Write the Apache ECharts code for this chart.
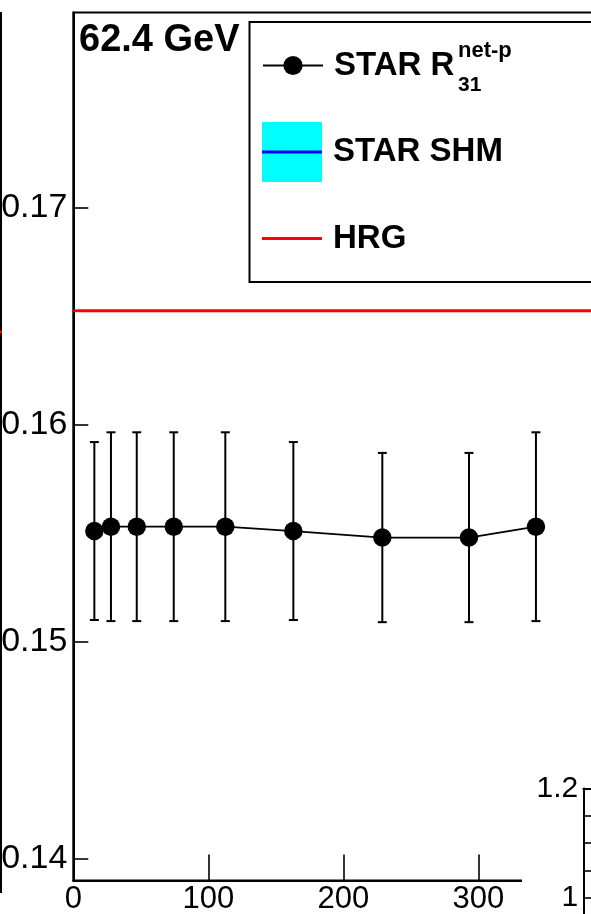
<!DOCTYPE html>
<html>
<head>
<meta charset="utf-8">
<script src="https://cdn.jsdelivr.net/npm/echarts@6/dist/echarts.min.js"></script>
<style>
  html, body { margin: 0; padding: 0; background: #fff; }
  #chart { width: 591px; height: 914px; }
</style>
</head>
<body>
<div id="chart"></div>
<script>
// Centrality dependence of the net-proton cumulant ratio at 62.4 GeV
const npart = [15.6, 27.9, 47.0, 74.4, 112.6, 163.0, 228.9, 293.1, 342.7];
const r31 = [0.1551, 0.1553, 0.1553, 0.1553, 0.1553, 0.1551, 0.1548, 0.1548, 0.1553];
const r31Err = [0.0041, 0.00435, 0.00435, 0.00435, 0.00435, 0.0041, 0.0039, 0.0039, 0.00435];
const hrgValue = 0.16525;

const xRange = [0, 400];
const yRange = [0.139, 0.179];
const xTickValues = [100, 200, 300];
const xLabelValues = [0, 100, 200, 300];
const yTickValues = [0.14, 0.15, 0.16, 0.17];

// neighbouring ratio panel (lower right corner)
const insetRange = [0.8, 1.2];
const insetLabelValues = [1, 1.2];

const FONT = 'Liberation Sans';

const starPoints = npart.map((x, i) => [x, r31[i]]);
const errPoints = npart.map((x, i) => [x, r31[i] - r31Err[i], r31[i] + r31Err[i]]);
const hrgLine = xRange.map(x => [x, hrgValue]);

const chart = echarts.init(document.getElementById('chart'), null, { renderer: 'canvas' });

const legendText = { fontFamily: FONT, fontSize: 33, fontWeight: 'bold', color: '#000', padding: [0, 0, 0, 6] };

chart.setOption({
  animation: false,
  backgroundColor: '#fff',
  title: {
    text: '62.4 GeV',
    left: 79, top: 22, padding: 0,
    textStyle: { fontFamily: FONT, fontSize: 38, fontWeight: 'bold', color: '#000' }
  },
  grid: [
    { left: 73.3, top: 12.4, width: 540, height: 868, show: true, outerBoundsMode: 'none',
      containLabel: false, borderColor: '#000', borderWidth: 2, backgroundColor: 'transparent' },
    { left: 583.3, top: 788.5, width: 100, height: 218, outerBoundsMode: 'none', containLabel: false }
  ],
  xAxis: [
    {
      gridIndex: 0, type: 'value', min: xRange[0], max: xRange[1],
      axisLine: { show: true, onZero: false, lineStyle: { color: '#000', width: 2 } },
      axisTick: { show: true, inside: true, length: 26, customValues: xTickValues,
                  lineStyle: { color: '#000', width: 1.6 } },
      axisLabel: { customValues: xLabelValues, margin: 4, color: '#000',
                   fontFamily: FONT, fontSize: 31, formatter: v => String(v) },
      splitLine: { show: false }
    },
    {
      gridIndex: 1, type: 'value', min: 0, max: 1, position: 'top', z: 10,
      axisLine: { show: true, onZero: false, lineStyle: { color: '#000', width: 2 } },
      axisTick: { show: false }, axisLabel: { show: false }, splitLine: { show: false }
    }
  ],
  yAxis: [
    {
      gridIndex: 0, type: 'value', min: yRange[0], max: yRange[1],
      axisLine: { show: true, onZero: false, lineStyle: { color: '#000', width: 2 } },
      axisTick: { show: true, inside: true, length: 15, customValues: yTickValues,
                  lineStyle: { color: '#000', width: 1.6 } },
      axisLabel: { customValues: yTickValues, margin: 6, color: '#000',
                   fontFamily: FONT, fontSize: 34, formatter: v => v.toFixed(2) },
      splitLine: { show: false }
    },
    {
      gridIndex: 1, type: 'value', min: insetRange[0], max: insetRange[1], interval: 0.05, z: 10,
      axisLine: { show: true, onZero: false, lineStyle: { color: '#000', width: 2 } },
      axisTick: { show: true, inside: true, length: 12, lineStyle: { color: '#000', width: 1.6 } },
      axisLabel: { customValues: insetLabelValues, margin: 5, color: '#000',
                   fontFamily: FONT, fontSize: 30, formatter: v => String(+v.toFixed(2)) },
      splitLine: { show: false }
    }
  ],
  legend: [
    {
      data: ['STAR R'], left: 262, top: 49, selectedMode: false,
      itemWidth: 60, itemHeight: 24, padding: 0, z: 20, textStyle: legendText
    },
    {
      data: [{ name: 'SHM band', icon: 'rect' }], left: 262, top: 122, selectedMode: false,
      itemWidth: 60, itemHeight: 60, padding: 0, z: 20, formatter: () => '',
      itemStyle: { color: '#00ffff' }
    },
    {
      data: [{ name: 'STAR SHM', icon: 'rect' }], left: 262, top: 135.5, selectedMode: false,
      itemWidth: 60, itemHeight: 3, padding: 0, z: 21,
      itemStyle: { color: '#0000ff' }, textStyle: legendText
    },
    {
      data: [{ name: 'HRG', icon: 'rect' }], left: 262, top: 222, selectedMode: false,
      itemWidth: 60, itemHeight: 3, padding: 0, z: 20,
      itemStyle: { color: '#ff0000' }, textStyle: legendText
    }
  ],
  graphic: [
    // legend frame
    { type: 'rect', z: 3, shape: { x: 249.5, y: 22, width: 420, height: 260 },
      style: { fill: '#fff', stroke: '#000', lineWidth: 2 } },
    { type: 'text', z: 25, style: { x: 458, y: 51, text: 'net-p', fill: '#000',
      font: 'bold 22px "Liberation Sans"', verticalAlign: 'middle' } },
    { type: 'text', z: 25, style: { x: 458, y: 85, text: '31', fill: '#000',
      font: 'bold 21px "Liberation Sans"', verticalAlign: 'middle' } },
    // edge of the neighbouring panel on the left
    { type: 'line', z: 5, shape: { x1: 1, y1: 12, x2: 1, y2: 893 },
      style: { stroke: '#000', lineWidth: 2 } },
    { type: 'line', z: 5, shape: { x1: 0, y1: 332, x2: 2, y2: 332 },
      style: { stroke: '#ff0000', lineWidth: 3 } },
    // pad of the ratio panel in the lower right corner
    { type: 'rect', z: 5, shape: { x: 522, y: 782, width: 90, height: 140 },
      style: { fill: '#fff' } }
  ],
  series: [
    {
      name: 'SHM band', type: 'line', xAxisIndex: 0, yAxisIndex: 0, data: [],
      itemStyle: { color: '#00ffff' }
    },
    {
      name: 'STAR SHM', type: 'line', xAxisIndex: 0, yAxisIndex: 0, data: [],
      itemStyle: { color: '#0000ff' }, lineStyle: { color: '#0000ff', width: 3 }
    },
    {
      name: 'HRG', type: 'line', xAxisIndex: 0, yAxisIndex: 0, data: hrgLine,
      showSymbol: false, symbol: 'none', z: 2,
      lineStyle: { color: '#ff0000', width: 3 }, itemStyle: { color: '#ff0000' }
    },
    {
      name: 'errors', type: 'custom', xAxisIndex: 0, yAxisIndex: 0, data: errPoints, z: 3,
      renderItem: (params, api) => {
        const lo = api.coord([api.value(0), api.value(1)]);
        const hi = api.coord([api.value(0), api.value(2)]);
        const cap = 4.5;
        const st = { stroke: '#000', lineWidth: 2 };
        return {
          type: 'group',
          children: [
            { type: 'line', shape: { x1: lo[0], y1: lo[1], x2: hi[0], y2: hi[1] }, style: st },
            { type: 'line', shape: { x1: lo[0] - cap, y1: lo[1], x2: lo[0] + cap, y2: lo[1] }, style: st },
            { type: 'line', shape: { x1: hi[0] - cap, y1: hi[1], x2: hi[0] + cap, y2: hi[1] }, style: st }
          ]
        };
      }
    },
    {
      name: 'STAR R', type: 'line', xAxisIndex: 0, yAxisIndex: 0, data: starPoints, z: 4,
      symbol: 'circle', symbolSize: 18.5, showSymbol: true,
      lineStyle: { color: '#000', width: 1.8 }, itemStyle: { color: '#000' }
    }
  ]
});
</script>
</body>
</html>
